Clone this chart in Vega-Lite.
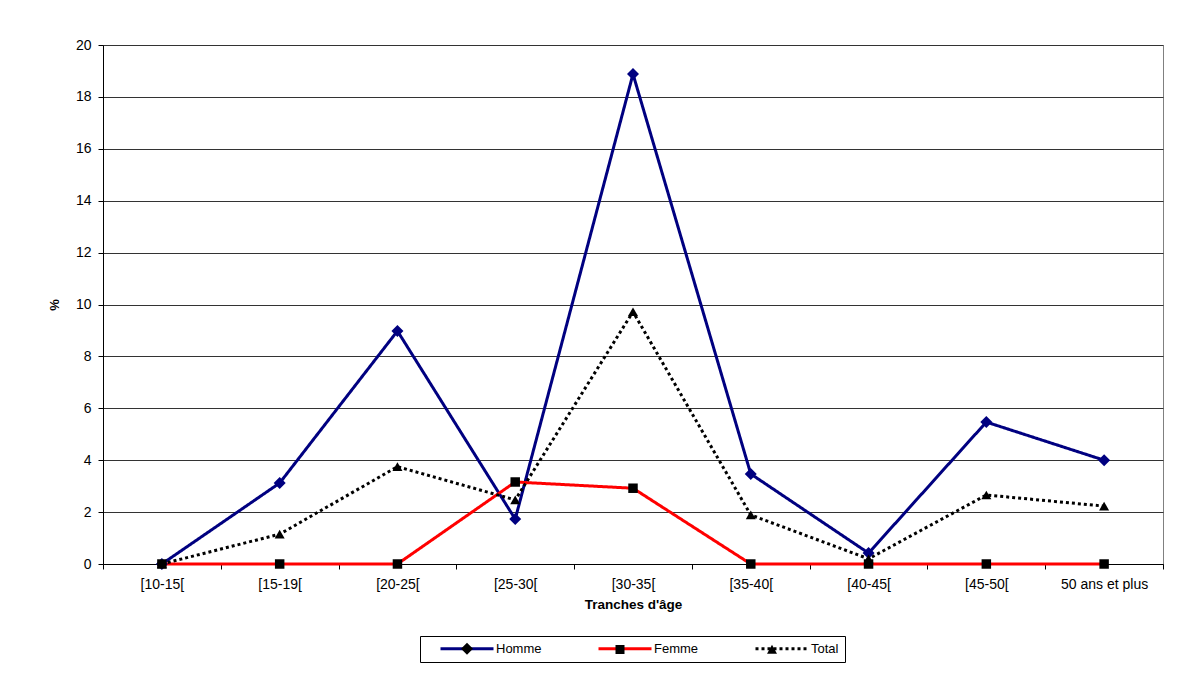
{
  "$schema": "https://vega.github.io/schema/vega-lite/v6.json",
  "width": 1060,
  "height": 519,
  "autosize": {"type": "none"},
  "padding": {"left": 103, "top": 45, "right": 34, "bottom": 113},
  "background": "white",
  "config": {
    "font": "Liberation Sans",
    "view": {"stroke": "#808080", "strokeWidth": 1}
  },
  "data": {
    "values": [
      {"age": "[10-15[", "series": "Homme", "value": 0},
      {"age": "[15-19[", "series": "Homme", "value": 3.12},
      {"age": "[20-25[", "series": "Homme", "value": 8.98},
      {"age": "[25-30[", "series": "Homme", "value": 1.73},
      {"age": "[30-35[", "series": "Homme", "value": 18.88},
      {"age": "[35-40[", "series": "Homme", "value": 3.47},
      {"age": "[40-45[", "series": "Homme", "value": 0.42},
      {"age": "[45-50[", "series": "Homme", "value": 5.47},
      {"age": "50 ans et plus", "series": "Homme", "value": 4.0},
      {"age": "[10-15[", "series": "Femme", "value": 0},
      {"age": "[15-19[", "series": "Femme", "value": 0},
      {"age": "[20-25[", "series": "Femme", "value": 0},
      {"age": "[25-30[", "series": "Femme", "value": 3.16},
      {"age": "[30-35[", "series": "Femme", "value": 2.92},
      {"age": "[35-40[", "series": "Femme", "value": 0},
      {"age": "[40-45[", "series": "Femme", "value": 0},
      {"age": "[45-50[", "series": "Femme", "value": 0},
      {"age": "50 ans et plus", "series": "Femme", "value": 0},
      {"age": "[10-15[", "series": "Total", "value": 0},
      {"age": "[15-19[", "series": "Total", "value": 1.15},
      {"age": "[20-25[", "series": "Total", "value": 3.75},
      {"age": "[25-30[", "series": "Total", "value": 2.47},
      {"age": "[30-35[", "series": "Total", "value": 9.72},
      {"age": "[35-40[", "series": "Total", "value": 1.89},
      {"age": "[40-45[", "series": "Total", "value": 0.2},
      {"age": "[45-50[", "series": "Total", "value": 2.66},
      {"age": "50 ans et plus", "series": "Total", "value": 2.23}
    ]
  },
  "encoding": {
    "x": {
      "field": "age",
      "type": "nominal",
      "sort": ["[10-15[", "[15-19[", "[20-25[", "[25-30[", "[30-35[", "[35-40[", "[40-45[", "[45-50[", "50 ans et plus"],
      "bandPosition": 0.5,
      "scale": {"type": "band", "paddingInner": 0, "paddingOuter": 0},
      "axis": {
        "title": "Tranches d'âge",
        "titleFont": "Liberation Sans",
        "titleFontSize": 13.5,
        "titleFontWeight": "bold",
        "titleColor": "black",
        "titlePadding": 6,
        "labelAngle": 0,
        "labelFont": "Liberation Sans",
        "labelFontSize": 14,
        "labelColor": "black",
        "labelPadding": 8,
        "tickBand": "extent",
        "tickSize": 5,
        "tickColor": "black",
        "domainColor": "black",
        "grid": false
      }
    },
    "y": {
      "field": "value",
      "type": "quantitative",
      "scale": {"domain": [0, 20], "nice": false},
      "axis": {
        "title": "%",
        "titleFont": "Liberation Sans",
        "titleFontSize": 13,
        "titleFontWeight": "bold",
        "titleColor": "black",
        "titlePadding": 14,
        "values": [0, 2, 4, 6, 8, 10, 12, 14, 16, 18, 20],
        "labelFont": "Liberation Sans",
        "labelFontSize": 14,
        "labelColor": "black",
        "labelPadding": 7,
        "tickSize": 5,
        "tickColor": "black",
        "domainColor": "black",
        "grid": true,
        "gridColor": "#333333",
        "gridWidth": 1
      }
    }
  },
  "layer": [
    {
      "mark": {"type": "line"},
      "encoding": {
        "color": {
          "field": "series",
          "type": "nominal",
          "scale": {"domain": ["Homme", "Femme", "Total"], "range": ["#000080", "#ff0000", "#000000"]},
          "legend": {
            "orient": "none",
            "legendX": 317,
            "legendY": 591,
            "direction": "horizontal",
            "title": "\u00a0",
            "titleOrient": "left",
            "titlePadding": 13,
            "titleFontSize": 13,
            "symbolType": "M-1,0L9.6,0",
            "symbolSize": 100,
            "labelOffset": 44,
            "columnPadding": 50,
            "padding": 6,
            "strokeColor": "black",
            "fillColor": "white",
            "labelFont": "Liberation Sans",
            "labelFontSize": 13,
            "labelColor": "black",
            "labelExpr": "datum.label == 'Total' ? 'Total\u00a0\u00a0\u00a0\u00a0\u00a0\u00a0\u00a0\u00a0' : datum.label"
          }
        },
        "strokeDash": {
          "field": "series",
          "type": "nominal",
          "scale": {"domain": ["Homme", "Femme", "Total"], "range": [[1, 0], [1, 0], [3, 3]]}
        },
        "strokeWidth": {
          "field": "series",
          "type": "nominal",
          "scale": {"domain": ["Homme", "Femme", "Total"], "range": [3, 3, 1]}
        }
      }
    },
    {
      "mark": {"type": "point", "filled": true, "opacity": 0},
      "encoding": {
        "shape": {
          "field": "series",
          "type": "nominal",
          "sort": ["Homme", "Femme", "Total"],
          "scale": {"range": ["M4.3,-1.2L5.5,0L4.3,1.2L3.1,0Z", "M3.4,-0.9L5.2,-0.9L5.2,0.9L3.4,0.9Z", "M4.3,-1L5.3,0.8L3.3,0.8Z"]},
          "legend": {
            "orient": "none",
            "legendX": 317,
            "legendY": 591,
            "direction": "horizontal",
            "title": "\u00a0",
            "titleOrient": "left",
            "titlePadding": 13,
            "titleFontSize": 13,
            "symbolSize": 100,
            "symbolOpacity": 1,
            "symbolStrokeColor": "transparent",
            "labelOffset": 44,
            "columnPadding": 50,
            "padding": 6,
            "zindex": 2,
            "labelFont": "Liberation Sans",
            "labelFontSize": 13,
            "labelColor": "transparent",
            "labelExpr": "datum.label == 'Total' ? 'Total\u00a0\u00a0\u00a0\u00a0\u00a0\u00a0\u00a0\u00a0' : datum.label"
          }
        },
        "fill": {
          "field": "series",
          "type": "nominal",
          "sort": ["Homme", "Femme", "Total"],
          "scale": {"range": ["#000080", "#000000", "#000000"]},
          "legend": null
        }
      }
    },
    {
      "transform": [{"filter": "datum.series === 'Homme'"}],
      "mark": {"type": "point", "filled": true, "opacity": 1, "shape": "diamond", "size": 144, "color": "#000080"}
    },
    {
      "transform": [{"filter": "datum.series === 'Femme'"}],
      "mark": {"type": "point", "filled": true, "opacity": 1, "shape": "square", "size": 90, "color": "#000000"}
    },
    {
      "transform": [{"filter": "datum.series === 'Total'"}],
      "mark": {"type": "point", "filled": true, "opacity": 1, "shape": "triangle-up", "size": 100, "color": "#000000"}
    }
  ]
}
